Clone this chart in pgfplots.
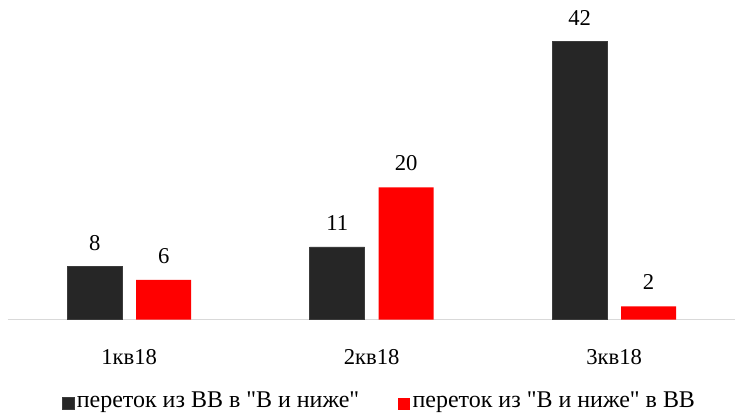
\documentclass[border=0pt]{standalone}
\usepackage{pgfplots}
\pgfplotsset{compat=1.18}
\usepackage{fontspec}
\setmainfont{Liberation Serif}[Ligatures=TeXOff]
\definecolor{darkbar}{RGB}{38,38,38}
\definecolor{redbar}{RGB}{255,0,0}
\definecolor{basegray}{RGB}{217,217,217}
\begin{document}
\begin{tikzpicture}
\begin{axis}[
    scale only axis,
    width=546pt, height=240pt,
    xmin=-0.5, xmax=2.5,
    ymin=0, ymax=48.3,
    ybar, bar width=41.25pt,
    axis y line=none,
    axis x line*=bottom,
    x axis line style={draw=basegray, line width=1pt, -},
    xtick={0,1,2},
    xticklabels={1кв18,2кв18,3кв18},
    xtick style={draw=none},
    xticklabel style={font=\fontsize{17}{20}\selectfont, anchor=center, yshift=-24pt},
    /pgf/number format/assume math mode=true,
    nodes near coords,
    every node near coord/.append style={font=\fontsize{17}{20}\selectfont, anchor=center, yshift=18pt},
    legend style={draw=none, at={(0.511,0)}, anchor=center, yshift=-60.75pt,
        font=\fontsize{18}{21}\selectfont, /tikz/every even column/.append style={column sep=27pt},
        inner sep=0pt},
    legend columns=2,
    legend image code/.code={\fill[#1] (0pt,-6.75pt) rectangle (9pt,2.25pt);},
]
\addplot[fill=darkbar, draw=darkbar!90!white, bar shift=-25.9pt] coordinates {(0,8) (1,11) (2,42)};
\addlegendentry{переток из ВВ в "В и ниже"}
\addplot[fill=redbar, draw=none, bar shift=25.9pt] coordinates {(0,6) (1,20) (2,2)};
\addlegendentry{переток из "В и ниже" в ВВ}
\path (rel axis cs:0,0) ++(-6pt,-70.5pt) coordinate (bl);
\path (rel axis cs:1,1) coordinate (tr);
\end{axis}
\useasboundingbox (bl) rectangle (tr);
\end{tikzpicture}
\end{document}
